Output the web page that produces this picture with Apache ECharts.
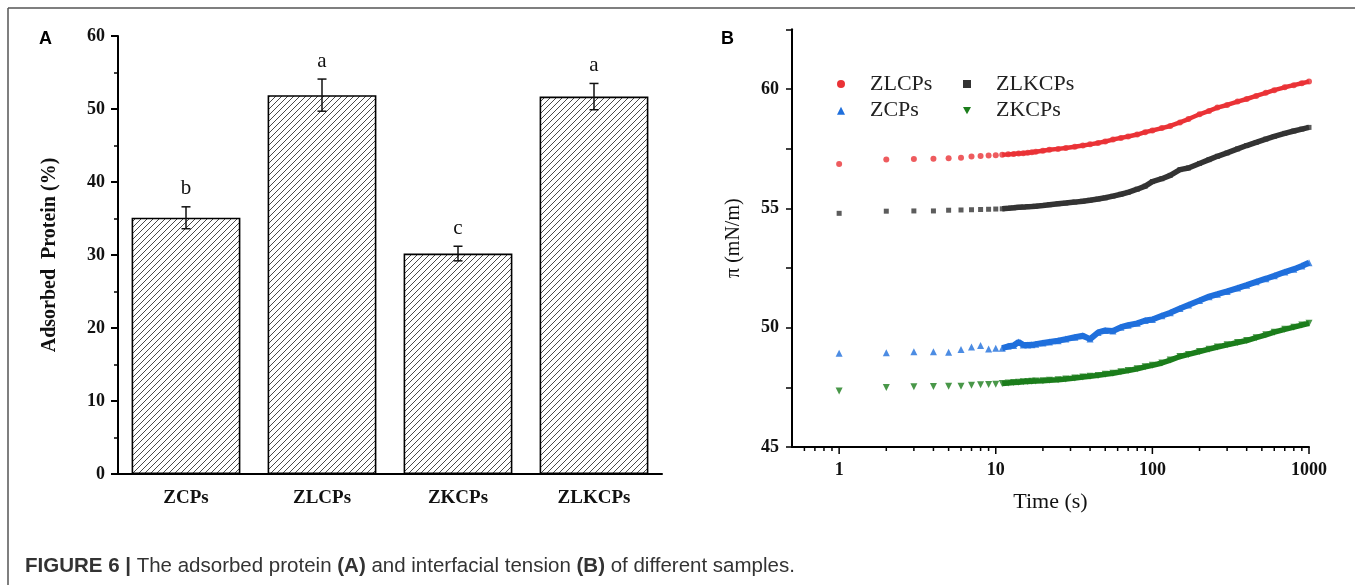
<!DOCTYPE html>
<html>
<head>
<meta charset="utf-8">
<script src="https://cdn.jsdelivr.net/npm/echarts@6/dist/echarts.min.js"></script>
<style>
html,body{margin:0;padding:0;background:#fff;}
#chart{width:1355px;height:585px;}
</style>
</head>
<body>
<div id="chart"></div>
<script type="text/javascript">
// ---- panel A data ----
var categories = ['ZCPs', 'ZLCPs', 'ZKCPs', 'ZLKCPs'];
var adsorbed = [35.1, 51.9, 30.2, 51.7];
var adsorbedErr = [1.5, 2.2, 1.0, 1.8];
var letters = ['b', 'a', 'c', 'a'];

// ---- panel B data ----
var times = [1,2,3,4,5,6,7,8,9,10,11,12,13,14,15,16,17,18,20,22,25,28,32,36,40,45,50,56,63,70,80,90,100,115,130,150,170,200,230,260,300,350,400,460,530,600,700,800,900,1000];
var zlcps = [56.86,57.05,57.07,57.08,57.10,57.12,57.17,57.19,57.21,57.22,57.24,57.26,57.28,57.30,57.31,57.33,57.35,57.37,57.41,57.45,57.49,57.53,57.58,57.63,57.68,57.74,57.80,57.88,57.95,58.01,58.09,58.19,58.26,58.36,58.45,58.60,58.74,58.94,59.08,59.22,59.33,59.47,59.58,59.71,59.84,59.95,60.07,60.16,60.24,60.31];
var zlkcps = [54.79,54.88,54.89,54.89,54.92,54.93,54.94,54.95,54.96,54.97,54.98,55.00,55.02,55.04,55.05,55.07,55.08,55.09,55.12,55.15,55.19,55.22,55.26,55.30,55.34,55.39,55.44,55.51,55.59,55.67,55.80,55.93,56.12,56.24,56.38,56.62,56.69,56.88,57.04,57.18,57.32,57.49,57.63,57.76,57.90,58.01,58.14,58.24,58.32,58.39];
var zcps = [48.93,48.95,48.99,48.99,48.97,49.08,49.19,49.25,49.11,49.14,49.14,49.22,49.25,49.40,49.27,49.27,49.28,49.31,49.36,49.40,49.45,49.52,49.60,49.66,49.52,49.80,49.88,49.86,50.02,50.10,50.18,50.30,50.34,50.50,50.62,50.80,50.95,51.14,51.30,51.40,51.52,51.66,51.78,51.92,52.05,52.17,52.33,52.45,52.58,52.72];
var zkcps = [47.35,47.49,47.52,47.53,47.54,47.54,47.59,47.61,47.62,47.63,47.66,47.68,47.70,47.71,47.73,47.74,47.75,47.76,47.78,47.80,47.82,47.85,47.89,47.93,47.96,48.00,48.05,48.09,48.15,48.20,48.28,48.36,48.42,48.52,48.64,48.79,48.88,49.00,49.10,49.19,49.28,49.38,49.46,49.58,49.70,49.81,49.93,50.02,50.11,50.18];
var timeMajorTicks = [1, 10, 100, 1000];
var timeMinorTicks = [0.6,0.7,0.8,0.9,2,3,4,5,6,7,8,9,20,30,40,50,60,70,80,90,200,300,400,500,600,700,800,900];

var serif = 'Liberation Serif';
var piMin = 45;

// hatch pattern for the bars
var hatch = document.createElement('canvas');
hatch.width = 6; hatch.height = 6;
var hctx = hatch.getContext('2d');
hctx.fillStyle = '#fff';
hctx.fillRect(0, 0, 6, 6);
hctx.strokeStyle = '#4a4a4a';
hctx.lineWidth = 1;
hctx.beginPath();
hctx.moveTo(0, 6); hctx.lineTo(6, 0);
hctx.moveTo(-1, 1); hctx.lineTo(1, -1);
hctx.moveTo(5, 7); hctx.lineTo(7, 5);
hctx.stroke();

function pairs(vals) {
	return times.map(function (t, i) { return [t, vals[i]]; });
}
function dense(vals) {
	return pairs(vals).filter(function (p) { return p[0] >= 11; });
}

var errData = categories.map(function (c, i) {
	return [i, adsorbed[i] - adsorbedErr[i], adsorbed[i] + adsorbedErr[i]];
});
var tickData = timeMajorTicks.map(function (v) { return [v, 1]; })
	.concat(timeMinorTicks.map(function (v) { return [v, 0]; }));

var groups = [
	{name: 'ZLCPs', vals: zlcps, color: '#ea3236', symbol: 'circle', size: 6, width: 4.5},
	{name: 'ZLKCPs', vals: zlkcps, color: '#333333', symbol: 'rect', size: 5, width: 5.5},
	{name: 'ZCPs', vals: zcps, color: '#1f6fdc', symbol: 'triangle', size: 7, width: 6},
	{name: 'ZKCPs', vals: zkcps, color: '#1b7d1b', symbol: 'path://M0,0 L10,0 L5,9 Z', size: 7, width: 5.5}
];

var series = [
	{
		type: 'bar', xAxisIndex: 0, yAxisIndex: 0, data: adsorbed, barWidth: '80%',
		itemStyle: {color: {image: hatch, repeat: 'repeat'}, borderColor: '#000', borderWidth: 1.6}
	},
	{
		type: 'custom', xAxisIndex: 0, yAxisIndex: 0, z: 5, data: errData,
		renderItem: function (params, api) {
			var lo = api.coord([api.value(0), api.value(1)]);
			var hi = api.coord([api.value(0), api.value(2)]);
			var st = {stroke: '#111', lineWidth: 1.5};
			return {type: 'group', children: [
				{type: 'line', shape: {x1: lo[0], y1: lo[1], x2: hi[0], y2: hi[1]}, style: st},
				{type: 'line', shape: {x1: lo[0] - 4.5, y1: lo[1], x2: lo[0] + 4.5, y2: lo[1]}, style: st},
				{type: 'line', shape: {x1: hi[0] - 4.5, y1: hi[1], x2: hi[0] + 4.5, y2: hi[1]}, style: st},
				{type: 'text', x: hi[0], y: hi[1] - 18, style: {
					text: letters[params.dataIndex], fontFamily: serif, fontSize: 21, fill: '#111',
					align: 'center', verticalAlign: 'middle'}}
			]};
		}
	},
	{
		type: 'custom', xAxisIndex: 2, yAxisIndex: 1, data: tickData, silent: true,
		renderItem: function (params, api) {
			var p = api.coord([api.value(0), piMin]);
			var len = api.value(1) ? 7 : 4;
			return {type: 'line', shape: {x1: p[0], y1: p[1], x2: p[0], y2: p[1] + len},
				style: {stroke: '#000', lineWidth: 1.5}};
		}
	}
];
groups.forEach(function (g) {
	series.push({
		name: g.name, type: 'line', xAxisIndex: 2, yAxisIndex: 1, data: dense(g.vals),
		showSymbol: false, lineStyle: {color: g.color, width: g.width}, itemStyle: {color: g.color}
	});
	series.push({
		name: g.name, type: 'scatter', xAxisIndex: 2, yAxisIndex: 1, data: pairs(g.vals),
		symbol: g.symbol, symbolSize: g.size, itemStyle: {color: g.color}
	});
});

function legendData(names) {
	return names.map(function (n) {
		var g = groups.filter(function (x) { return x.name === n; })[0];
		return {name: n, icon: g.symbol, itemStyle: {color: g.color}};
	});
}
var legendText = {fontFamily: serif, fontSize: 22, color: '#222', lineHeight: 22, padding: [0, 0, 0, 20]};

var axisLineStyle = {color: '#000', width: 2};
var chart = echarts.init(document.getElementById('chart'));
chart.setOption({
	animation: false,
	backgroundColor: '#fff',
	grid: [
		{left: 118, top: 36, width: 544, height: 438},
		{left: 792, top: 29.3, width: 517, height: 417.7}
	],
	legend: [
		{left: 832, top: 68, orient: 'vertical', itemWidth: 8, itemHeight: 8, itemGap: 4.7,
			data: legendData(['ZLCPs', 'ZCPs']), textStyle: legendText, selectedMode: false},
		{left: 958, top: 68, orient: 'vertical', itemWidth: 8, itemHeight: 8, itemGap: 4.7,
			data: legendData(['ZLKCPs', 'ZKCPs']), textStyle: legendText, selectedMode: false}
	],
	xAxis: [
		{gridIndex: 0, type: 'category', data: categories, position: 'bottom',
			axisLine: {lineStyle: axisLineStyle},
			axisTick: {alignWithLabel: true, length: 7, lineStyle: {color: '#000', width: 2}},
			axisLabel: {fontFamily: serif, fontWeight: 'bold', fontSize: 19, color: '#111', margin: 15}},
		{gridIndex: 0, type: 'category', data: categories, position: 'bottom',
			axisLine: {show: false},
			axisTick: {length: 4, lineStyle: {color: '#000', width: 1.5}},
			axisLabel: {show: false}},
		{gridIndex: 1, type: 'log', logBase: 10, min: 0.5, max: 1000,
			axisLine: {lineStyle: axisLineStyle}, axisTick: {show: false}, splitLine: {show: false},
			axisLabel: {fontFamily: serif, fontWeight: 'bold', fontSize: 18, color: '#111', margin: 14,
				formatter: function (v) { return v >= 1 ? String(Math.round(v)) : ''; }},
			name: 'Time (s)', nameLocation: 'middle', nameGap: 44,
			nameTextStyle: {fontFamily: serif, fontSize: 22, color: '#111'}}
	],
	yAxis: [
		{gridIndex: 0, type: 'value', min: 0, max: 60, interval: 10,
			axisLine: {show: true, lineStyle: axisLineStyle},
			axisTick: {show: true, length: 7, lineStyle: {color: '#000', width: 2}},
			minorTick: {show: true, splitNumber: 2, length: 4, lineStyle: {color: '#000', width: 1.5}},
			splitLine: {show: false},
			axisLabel: {fontFamily: serif, fontWeight: 'bold', fontSize: 18, color: '#111', margin: 13},
			name: 'Adsorbed  Protein (%)', nameLocation: 'middle', nameGap: 58,
			nameTextStyle: {fontFamily: serif, fontWeight: 'bold', fontSize: 20, color: '#111'}},
		{gridIndex: 1, type: 'value', min: 45, max: 62.5, interval: 2.5,
			axisLine: {show: true, lineStyle: axisLineStyle},
			axisTick: {show: true, length: 6, lineStyle: {color: '#000', width: 1.5}},
			splitLine: {show: false},
			axisLabel: {fontFamily: serif, fontWeight: 'bold', fontSize: 18, color: '#111', margin: 13,
				formatter: function (v) { return v % 5 === 0 ? String(v) : ''; }},
			name: 'π (mN/m)', nameLocation: 'middle', nameGap: 48,
			nameTextStyle: {fontFamily: serif, fontSize: 20, color: '#111'}}
	],
	graphic: [
		{type: 'line', shape: {x1: 8, y1: 8, x2: 1355, y2: 8}, style: {stroke: '#555', lineWidth: 1.5}},
		{type: 'line', shape: {x1: 8, y1: 8, x2: 8, y2: 585}, style: {stroke: '#555', lineWidth: 1.5}},
		{type: 'text', left: 39, top: 30, style: {text: 'A', fontFamily: 'Liberation Sans', fontWeight: 'bold', fontSize: 18, fill: '#000'}},
		{type: 'text', left: 721, top: 30, style: {text: 'B', fontFamily: 'Liberation Sans', fontWeight: 'bold', fontSize: 18, fill: '#000'}},
		{type: 'text', left: 25, top: 556, style: {
			text: '{b|FIGURE 6 | }{r|The adsorbed protein }{b|(A)}{r| and interfacial tension }{b|(B)}{r| of different samples.}',
			rich: {
				b: {fontFamily: 'Liberation Sans', fontWeight: 'bold', fontSize: 20.5, fill: '#333'},
				r: {fontFamily: 'Liberation Sans', fontSize: 20.5, fill: '#333'}
			}}}
	],
	series: series
});
</script>
</body>
</html>
